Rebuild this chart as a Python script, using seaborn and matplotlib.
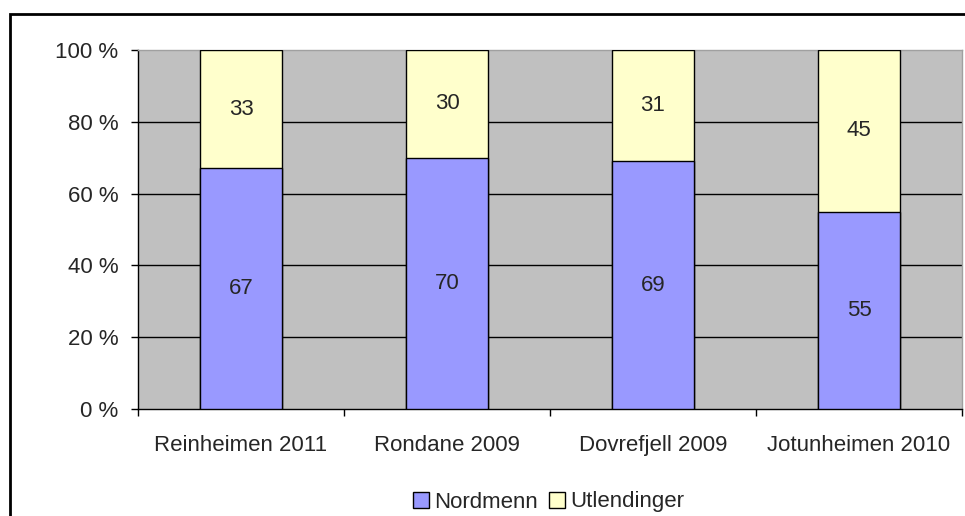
import matplotlib
matplotlib.use("Agg")
import matplotlib.pyplot as plt
from matplotlib.patches import Rectangle
from matplotlib.ticker import FuncFormatter, FixedLocator
import pandas as pd
import seaborn as sns

områder = ["Reinheimen 2011", "Rondane 2009", "Dovrefjell 2009", "Jotunheimen 2010"]
nordmenn = [67, 70, 69, 55]
utlendinger = [33, 30, 31, 45]

df = pd.DataFrame({"omr": områder, "Nordmenn": nordmenn, "Utlendinger": utlendinger})
df["total"] = df["Nordmenn"] + df["Utlendinger"]

sns.set_style("white")
plt.rcParams["font.family"] = ["Liberation Sans", "DejaVu Sans"]
FS = 16

fig = plt.figure(figsize=(9.65, 5.16), dpi=100)
ax = fig.add_axes([138 / 965, 1 - 409 / 516, 824 / 965, 359 / 516])
ax.set_facecolor("#C0C0C0")

blue = "#9999FF"
yellow = "#FFFFCC"

sns.barplot(data=df, x="omr", y="total", color=yellow, width=0.4,
            edgecolor="black", linewidth=1, saturation=1, ax=ax, zorder=3)
sns.barplot(data=df, x="omr", y="Nordmenn", color=blue, width=0.4,
            edgecolor="black", linewidth=1, saturation=1, ax=ax, zorder=3)

for i, row in df.iterrows():
    ax.text(i, row["Nordmenn"] / 2, str(row["Nordmenn"]), ha="center", va="center",
            fontsize=FS, zorder=5)
    ax.text(i, row["Nordmenn"] + row["Utlendinger"] / 2, str(row["Utlendinger"]),
            ha="center", va="center", fontsize=FS, zorder=5)

ax.set_xlim(-0.5, 3.5)
ax.set_ylim(0, 100)
ax.set_yticks([0, 20, 40, 60, 80, 100])
ax.yaxis.set_major_formatter(FuncFormatter(lambda v, p: f"{int(v)} %"))
for y in [20, 40, 60, 80]:
    ax.axhline(y, color="black", linewidth=1, zorder=1)

ax.set_xlabel("")
ax.set_ylabel("")
ax.xaxis.set_minor_locator(FixedLocator([-0.5, 0.5, 1.5, 2.5, 3.5]))
ax.tick_params(axis="x", which="major", length=0, pad=19, labelsize=FS)
ax.tick_params(axis="x", which="minor", length=5, width=1, color="black", direction="out")
ax.tick_params(axis="y", length=5, width=1, color="black", direction="out", labelsize=FS, pad=9)
ax.tick_params(axis="both", bottom=True, left=True, which="both")

for s in ["top", "right"]:
    ax.spines[s].set_color("#A0A0A0")
    ax.spines[s].set_linewidth(1)
for s in ["bottom", "left"]:
    ax.spines[s].set_color("black")
    ax.spines[s].set_linewidth(1)

handles = [Rectangle((0, 0), 1, 1, facecolor=blue, edgecolor="black", linewidth=1),
           Rectangle((0, 0), 1, 1, facecolor=yellow, edgecolor="black", linewidth=1)]
fig.legend(handles, ["Nordmenn", "Utlendinger"], loc="center", ncol=2,
           bbox_to_anchor=(549 / 965, 1 - 502 / 516), frameon=False, fontsize=FS,
           handlelength=0.7, handleheight=0.7, handletextpad=0.25, columnspacing=0.5,
           borderpad=0)

fig.patches.append(Rectangle((9.5 / 965, -0.1), 1.2, 1.1 - 13.5 / 516,
                             transform=fig.transFigure, fill=False,
                             edgecolor="black", linewidth=2, clip_on=False))

fig.savefig("out.png", dpi=100)
